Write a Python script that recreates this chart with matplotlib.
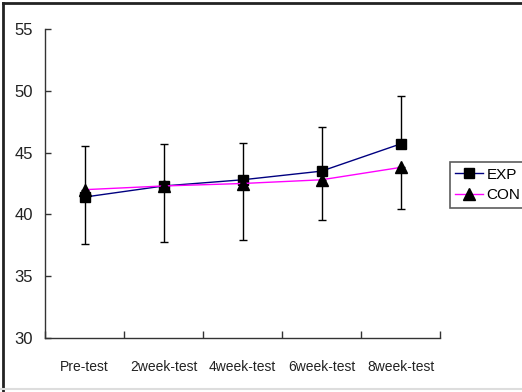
import matplotlib
matplotlib.use("Agg")
import matplotlib.pyplot as plt
from matplotlib.lines import Line2D
import numpy as np

categories = ["Pre-test", "2week-test", "4week-test", "6week-test", "8week-test"]
exp_mean = [41.4, 42.3, 42.8, 43.5, 45.7]
exp_sd = [4.1, 3.4, 3.0, 3.6, 3.9]
con_mean = [42.0, 42.3, 42.5, 42.8, 43.8]
con_sd = [4.4, 4.5, 4.6, 3.25, 3.4]
y_ticks = [30, 35, 40, 45, 50, 55]

plt.rcParams['font.family'] = ['Liberation Sans', 'DejaVu Sans']

fig = plt.figure(figsize=(5.22, 3.92), dpi=100)
ax = fig.add_axes([45 / 522, 1 - 338 / 392, (440 - 45) / 522, (338 - 29) / 392])

x = np.arange(len(categories))

ax.errorbar(x, exp_mean, yerr=[np.zeros(len(exp_sd)), exp_sd], fmt='none',
            ecolor='black', elinewidth=1, capsize=3, capthick=1, zorder=2)
ax.errorbar(x, con_mean, yerr=[con_sd, np.zeros(len(con_sd))], fmt='none',
            ecolor='black', elinewidth=1, capsize=3, capthick=1, zorder=2)

ax.plot(x, exp_mean, color='#000080', lw=1, marker='s', markersize=7.5,
        markerfacecolor='black', markeredgecolor='black', label='EXP', zorder=3)
ax.plot(x, con_mean, color='#ff00ff', lw=1, marker='^', markersize=8,
        markerfacecolor='black', markeredgecolor='black', label='CON', zorder=3)

ax.set_xlim(-0.5, len(categories) - 0.5)
ax.set_ylim(30, 55)
ax.set_yticks(y_ticks)
ax.set_yticklabels([str(v) for v in y_ticks], fontsize=12, color='#222222')

ax.set_xticks(x)
ax.set_xticklabels(categories, fontsize=10, color='#222222')
ax.tick_params(axis='x', length=0, pad=16)
ax.set_xticks(np.arange(len(categories) + 1) - 0.5, minor=True)
ax.tick_params(axis='x', which='minor', direction='in', length=5, width=1, color='#333333')
ax.tick_params(axis='y', direction='in', length=4, width=1, color='#333333', pad=8.5)

for side in ['top', 'right']:
    ax.spines[side].set_visible(False)
for side in ['left', 'bottom']:
    ax.spines[side].set_color('#333333')
    ax.spines[side].set_linewidth(1)

leg = ax.legend(loc='center left', bbox_to_anchor=(450 / 522, 1 - 185 / 392),
                bbox_transform=fig.transFigure, frameon=True, fancybox=False,
                fontsize=11, handlelength=1.8, handletextpad=0.25,
                borderpad=0.35, labelspacing=0.45, borderaxespad=0,
                markerscale=1.0)
leg.get_frame().set_edgecolor('#333333')
leg.get_frame().set_linewidth(1.2)

# outer frame of the picture
fig.add_artist(Line2D([3 / 522, 3 / 522], [0.5 / 392, 1 - 2.5 / 392],
                      transform=fig.transFigure, color='#222222', lw=2))
fig.add_artist(Line2D([3 / 522, 1], [1 - 2.5 / 392, 1 - 2.5 / 392],
                      transform=fig.transFigure, color='#222222', lw=2))
fig.add_artist(Line2D([0, 1], [3 / 392, 3 / 392],
                      transform=fig.transFigure, color='#dddddd', lw=1.5))

fig.savefig("out.png", dpi=100)
